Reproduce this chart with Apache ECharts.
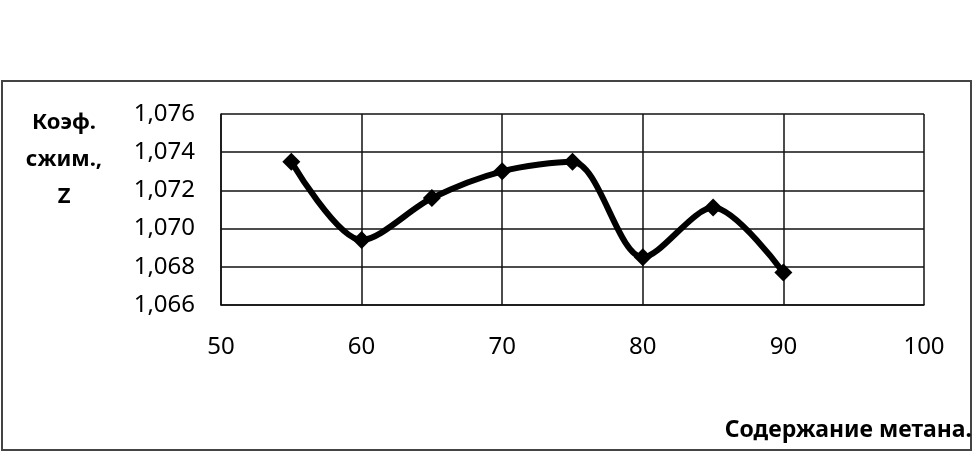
<!DOCTYPE html>
<html>
<head>
<meta charset="utf-8">
<script src="https://cdn.jsdelivr.net/npm/echarts@6/dist/echarts.min.js"></script>
<style>
  html, body { margin: 0; padding: 0; background: #fff; }
  #chart { width: 980px; height: 474px; }
</style>
</head>
<body>
<div id="chart"></div>
<script>
// содержание метана, %
const methane = [55, 60, 65, 70, 75, 80, 85, 90]
// коэффициент сжимаемости Z
const zValues = [1.0735, 1.0694, 1.0716, 1.0730, 1.0735, 1.0685, 1.0711, 1.0677]
const yTicks = { min: 1.066, max: 1.076, step: 0.002 }
const xTicks = { min: 50, max: 100, step: 10 }
const yName = 'Коэф.\nсжим.,\nZ'
const xName = 'Содержание метана.'

const font = 'Noto Sans'
const myChart = echarts.init(document.getElementById('chart'))

myChart.setOption({
  animation: false,
  backgroundColor: '#fff',
  grid: {
    left: 221,
    right: 56,
    top: 114,
    bottom: 169,
    containLabel: false,
  },
  graphic: [
    {
      type: 'rect',
      shape: { x: 2, y: 81, width: 969, height: 369 },
      style: { fill: 'none', stroke: '#444', lineWidth: 2 },
      z: -1,
    },
    {
      type: 'text',
      x: 64,
      y: 104,
      style: {
        text: yName,
        align: 'center',
        font: 'bold 22px ' + font,
        lineHeight: 37,
        fill: '#000',
      },
    },
    {
      type: 'text',
      right: 8,
      top: 419,
      style: {
        text: xName,
        font: 'bold 23px ' + font,
        fill: '#000',
      },
    },
  ],
  xAxis: {
    type: 'value',
    min: xTicks.min,
    max: xTicks.max,
    interval: xTicks.step,
    axisLine: { show: true, lineStyle: { color: '#111', width: 1.5 } },
    axisTick: { show: false },
    axisLabel: {
      margin: 30,
      color: '#000',
      fontSize: 24,
      fontFamily: font,
    },
    splitLine: { show: true, lineStyle: { color: '#111', width: 1.5 } },
  },
  yAxis: {
    type: 'value',
    min: yTicks.min,
    max: yTicks.max,
    interval: yTicks.step,
    axisLine: { show: true, lineStyle: { color: '#111', width: 1.5 } },
    axisTick: { show: false },
    axisLabel: {
      margin: 26,
      color: '#000',
      fontSize: 24,
      fontFamily: font,
      padding: [8, 0, 0, 0],
      formatter: function (v) {
        return v.toFixed(3).replace('.', ',')
      },
    },
    splitLine: { show: true, lineStyle: { color: '#111', width: 1.5 } },
  },
  series: [
    {
      type: 'line',
      data: methane.map((m, i) => [m, zValues[i]]),
      smooth: 0.3,
      symbol: 'diamond',
      symbolSize: 18,
      itemStyle: { color: '#000' },
      lineStyle: { color: '#000', width: 6 },
    },
  ],
})
window.addEventListener('resize', () => {
  myChart.resize()
})
</script>
</body>
</html>
